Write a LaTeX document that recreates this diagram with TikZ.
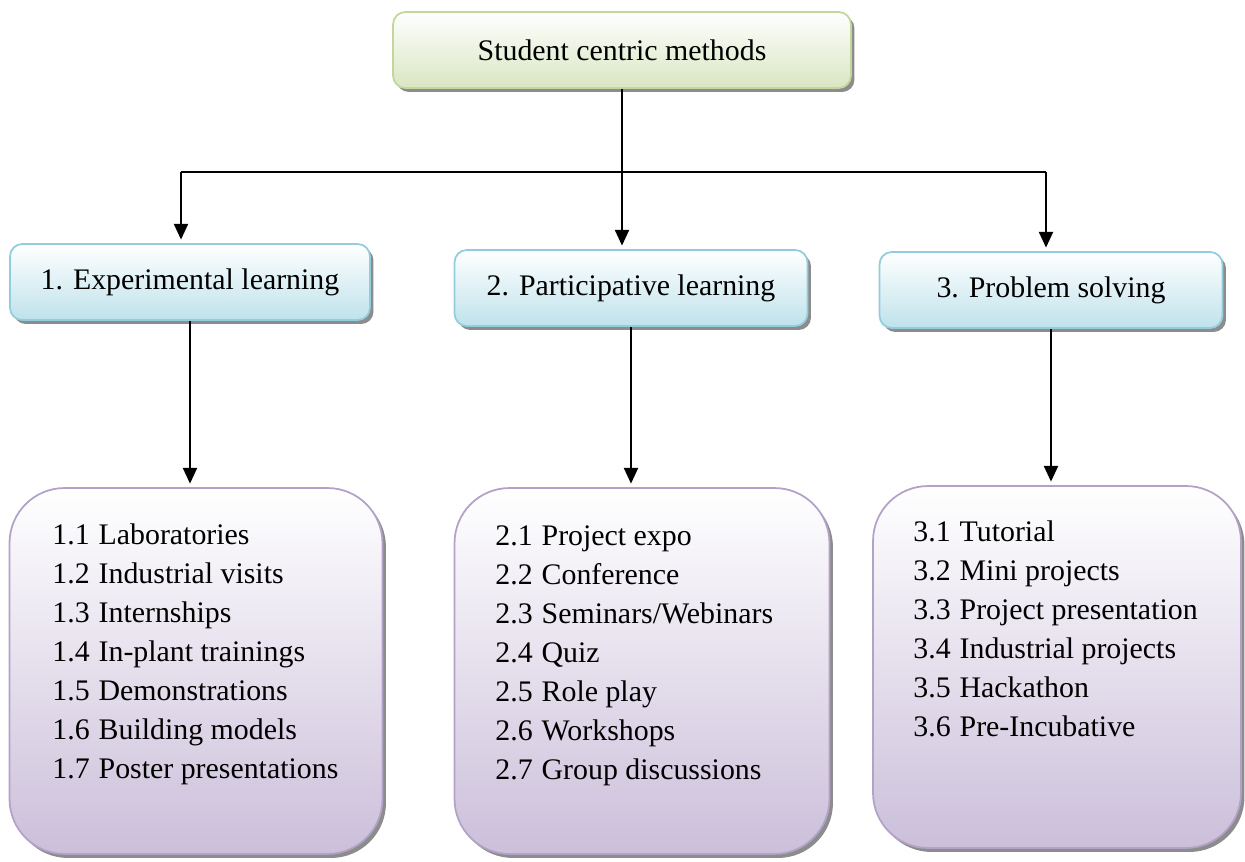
\documentclass[tikz,border=0pt]{standalone}
\usepackage{fontspec}
\setmainfont{Liberation Serif}
\usetikzlibrary{arrows.meta,shadows}

\definecolor{headline}{HTML}{C3D69B}
\definecolor{headfill}{HTML}{D9E6C2}
\definecolor{groupline}{HTML}{93CDDD}
\definecolor{groupfill}{HTML}{BFE2EB}
\definecolor{listline}{HTML}{B3A2C7}
\definecolor{listfill}{HTML}{CBBFDA}

\tikzset{
  boxshadow/.style={drop shadow={shadow xshift=0.07cm, shadow yshift=-0.08cm, fill=black!45, opacity=1}},
  headbox/.style={draw=headline, line width=1pt, rounded corners=7pt, top color=white, bottom color=headfill, boxshadow, minimum height=1.52cm},
  groupbox/.style={draw=groupline, line width=1pt, rounded corners=7pt, top color=white, bottom color=groupfill, boxshadow, minimum height=1.52cm},
  listbox/.style={draw=listline, line width=1pt, rounded corners=1.1cm, top color=white, bottom color=listfill, boxshadow},
  itemlist/.style={align=left, inner sep=0pt, anchor=north west},
  arrowline/.style={line width=1.2pt, -{Triangle[length=9pt,width=8pt]}, shorten >=2pt},
  plainline/.style={line width=1.2pt}
}
\newcommand{\itm}[2]{\makebox[1.55em][l]{#1}#2}

\begin{document}
\begin{tikzpicture}[x=0.02cm, y=-0.02cm, font=\fontsize{17}{22.2}\selectfont]
  \useasboundingbox (0,0) rectangle (1245,862);

  \node[headbox, minimum width=9.16cm] (top) at (622,50) {Student centric methods};

  \node[groupbox, minimum width=7.2cm] (exp) at (190,282) {1. Experimental learning};
  \node[groupbox, minimum width=7.06cm] (part) at (631,288) {2. Participative learning};
  \node[groupbox, minimum width=6.86cm] (prob) at (1051,290) {3. Problem solving};

  \node[listbox, minimum width=7.46cm, minimum height=7.32cm] (explist) at (196,671) {};
  \node[listbox, minimum width=7.5cm, minimum height=7.32cm] (partlist) at (642,671) {};
  \node[listbox, minimum width=7.36cm, minimum height=7.24cm] (problist) at (1057,667) {};

  \node[itemlist] (expitems) at (52,523) {\itm{1.1}{Laboratories}\\ \itm{1.2}{Industrial visits}\\
    \itm{1.3}{Internships}\\ \itm{1.4}{In-plant trainings}\\ \itm{1.5}{Demonstrations}\\
    \itm{1.6}{Building models}\\ \itm{1.7}{Poster presentations}};
  \node[itemlist] (partitems) at (495,525) {\itm{2.1}{Project expo}\\ \itm{2.2}{Conference}\\
    \itm{2.3}{Seminars/Webinars}\\ \itm{2.4}{Quiz}\\ \itm{2.5}{Role play}\\
    \itm{2.6}{Workshops}\\ \itm{2.7}{Group discussions}};
  \node[itemlist] (probitems) at (913,520) {\itm{3.1}{Tutorial}\\ \itm{3.2}{Mini projects}\\
    \itm{3.3}{Project presentation}\\ \itm{3.4}{Industrial projects}\\
    \itm{3.5}{Hackathon}\\ \itm{3.6}{Pre-Incubative}};

  \coordinate (jl) at (181,172);
  \coordinate (jr) at (1046,172);
  \draw[plainline] (jl) -- (jr);
  \draw[arrowline] (top.south) -- (top.south |- part.north);
  \draw[arrowline] (jl) -- (jl |- exp.north);
  \draw[arrowline] (jr) -- (jr |- prob.north);

  \foreach \g/\l in {exp/explist,part/partlist,prob/problist}
    \draw[arrowline] (\g.south) -- (\g.south |- \l.north);
\end{tikzpicture}
\end{document}
